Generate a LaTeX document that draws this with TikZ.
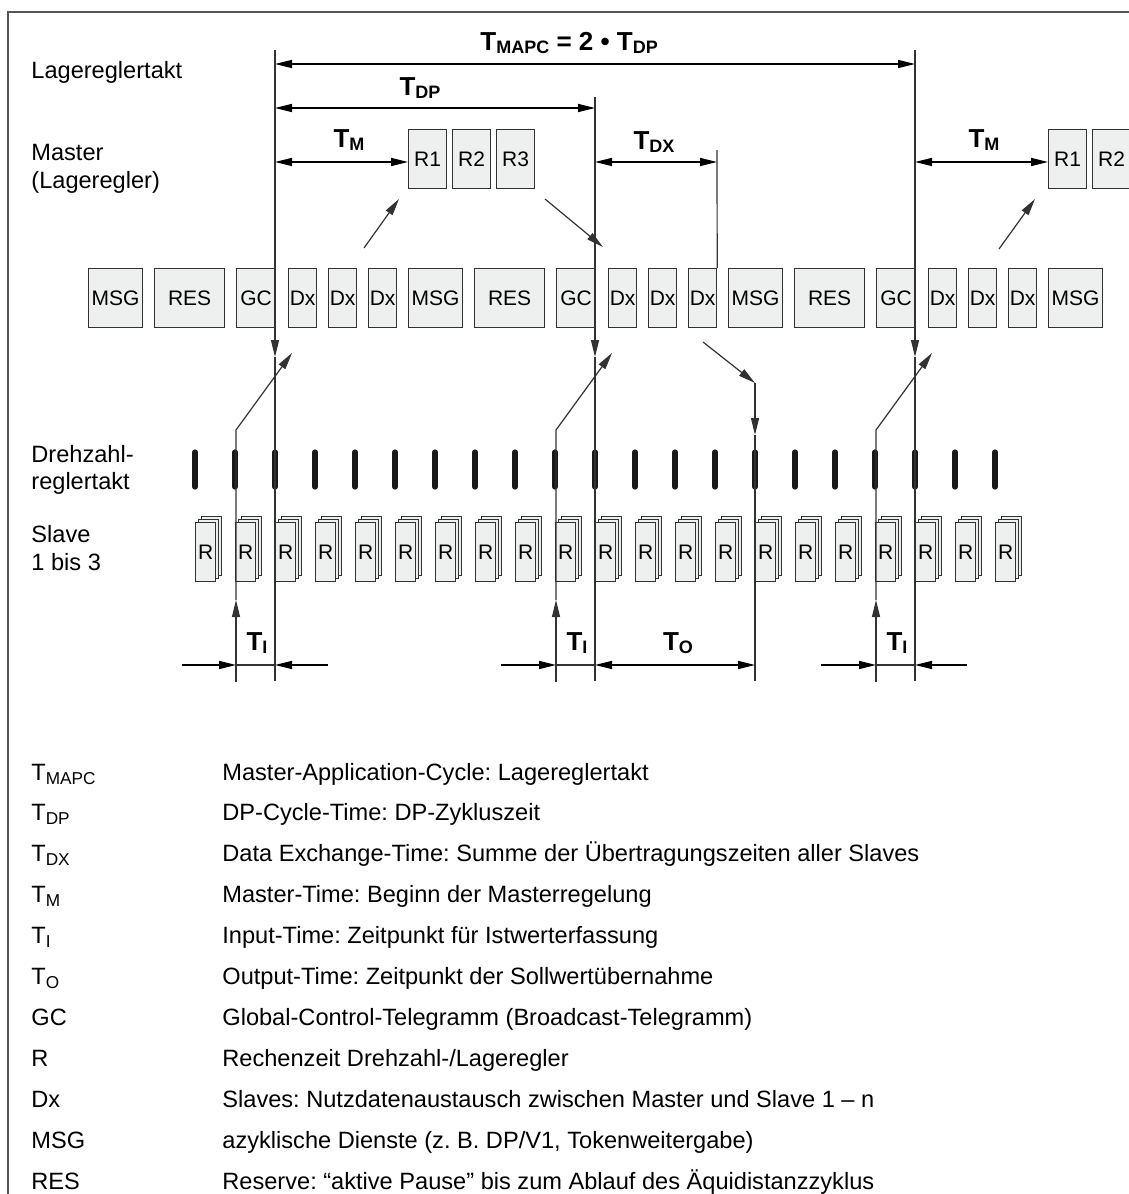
\documentclass[tikz,border=0pt]{standalone}
\usepackage{fontspec}
\setmainfont{Liberation Sans}
\usetikzlibrary{arrows.meta, calc}
\frenchspacing

\definecolor{boxfill}{RGB}{238,240,239}
\definecolor{inkgray}{RGB}{50,50,50}
\definecolor{framegray}{RGB}{85,85,85}

\newcommand{\Tb}[1]{T\raisebox{-0.28ex}{\fontsize{9}{10}\selectfont #1}}
\newcommand{\Tn}[1]{T\raisebox{-0.32ex}{\fontsize{8.6}{10}\selectfont #1}}

\tikzset{
  lbl/.style={anchor=base west, inner sep=0pt, font=\fontsize{11.8}{14}\selectfont},
  tlbl/.style={anchor=base, inner sep=0pt, font=\fontsize{13}{15}\selectfont\bfseries},
  pkt/.style={draw=inkgray, fill=boxfill, line width=0.6pt, inner sep=0pt, anchor=north west, minimum height=29.5pt, font=\fontsize{10.5}{12}\selectfont},
  msgbox/.style={pkt, minimum width=27pt},
  resbox/.style={pkt, minimum width=35pt},
  gcbox/.style={pkt, minimum width=19.5pt},
  dxbox/.style={pkt, minimum width=14pt},
  mbox/.style={pkt, minimum width=19pt},
  rfront/.style={pkt, minimum width=10pt, minimum height=29.5pt},
  rback/.style={draw=inkgray, fill=boxfill, line width=0.5pt},
  vline/.style={draw=inkgray, line width=0.6pt},
  dimline/.style={line width=0.75pt},
  taktmark/.style={line width=2.6pt, line cap=round, black!90},
}

\begin{document}
\begin{tikzpicture}[x=0.5pt, y=-0.5pt, >={Triangle[length=8.5pt, width=4pt]}]
  \useasboundingbox (0,0) rectangle (1129,1194);
  \draw[framegray, line width=0.6pt] (8,1210) -- (8,12) -- (1140,12);

  % row labels
  \node[lbl] (lagetakt) at (31,78) {Lagereglertakt};
  \node[lbl] (master) at (31,160) {Master};
  \node[lbl] (masterb) at (31,188) {(Lageregler)};
  \node[lbl] (drehz) at (31,462) {Drehzahl-};
  \node[lbl] (drehzb) at (31,489) {reglertakt};
  \node[lbl] (slave) at (31,542) {Slave};
  \node[lbl] (slaveb) at (31,570) {1 bis 3};

  % bus telegrams
  \node[msgbox] (msg0) at (88,268) {MSG};
  \node[resbox] (res0) at (154,268) {RES};
  \node[gcbox] (gc1) at (236,268) {GC};
  \node[dxbox] (dx1a) at (288,268) {Dx};
  \node[dxbox] (dx1b) at (328,268) {Dx};
  \node[dxbox] (dx1c) at (368,268) {Dx};
  \node[msgbox] (msg1) at (408,268) {MSG};
  \node[resbox] (res1) at (474,268) {RES};
  \node[gcbox] (gc2) at (556,268) {GC};
  \node[dxbox] (dx2a) at (608,268) {Dx};
  \node[dxbox] (dx2b) at (648,268) {Dx};
  \node[dxbox] (dx2c) at (688,268) {Dx};
  \node[msgbox] (msg2) at (728,268) {MSG};
  \node[resbox] (res2) at (794,268) {RES};
  \node[gcbox] (gc3) at (876,268) {GC};
  \node[dxbox] (dx3a) at (928,268) {Dx};
  \node[dxbox] (dx3b) at (968,268) {Dx};
  \node[dxbox] (dx3c) at (1008,268) {Dx};
  \node[msgbox] (msg3) at (1048,268) {MSG};

  % master computing
  \node[mbox] (r1a) at (408,129) {R1};
  \node[mbox] (r2a) at (452,129) {R2};
  \node[mbox] (r3a) at (496,129) {R3};
  \node[mbox] (r1b) at (1048,129) {R1};
  \node[mbox] (r2b) at (1092,129) {R2};

  % speed controller clock and slaves
  \foreach \k in {0,...,20} {
    \draw[taktmark] ({195+40*\k},452) -- ({195+40*\k},487);
    \draw[rback] ({201+40*\k},516) rectangle ++(20,59);
    \draw[rback] ({198+40*\k},519) rectangle ++(20,59);
    \node[rfront] (rs\k) at ({195+40*\k},522) {R};
  }

  % cycle lines
  \coordinate (a0) at (275,50);  \coordinate (a1) at (275,357);  \coordinate (a2) at (275,681);
  \coordinate (b0) at (595,97);  \coordinate (b1) at (595,357);  \coordinate (b2) at (595,681);
  \coordinate (c0) at (915,50);  \coordinate (c1) at (915,357);  \coordinate (c2) at (915,681);
  \coordinate (dxtop) at (717,150);
  \draw[vline, ->] (a0) -- (a1);
  \draw[vline] (a1) -- (a2);
  \draw[vline, ->] (b0) -- (b1);
  \draw[vline] (b1) -- (b2);
  \draw[vline, ->] (c0) -- (c1);
  \draw[vline] (c1) -- (c2);
  \draw[vline] (dxtop) -- (dx2c.north east);

  % actual value paths
  \coordinate (s1a) at (236,682); \coordinate (s1b) at (236,600); \coordinate (s1c) at (236,430); \coordinate (s1d) at (292,353);
  \coordinate (s2a) at (556,682); \coordinate (s2b) at (556,600); \coordinate (s2c) at (556,430); \coordinate (s2d) at (612,353);
  \coordinate (s3a) at (876,682); \coordinate (s3b) at (876,600); \coordinate (s3c) at (876,430); \coordinate (s3d) at (932,353);
  \draw[vline, ->] (s1a) -- (s1b);
  \draw[vline, ->] (s1b) -- (s1c) -- (s1d);
  \draw[vline, ->] (s2a) -- (s2b);
  \draw[vline, ->] (s2b) -- (s2c) -- (s2d);
  \draw[vline, ->] (s3a) -- (s3b);
  \draw[vline, ->] (s3b) -- (s3c) -- (s3d);

  % master paths
  \coordinate (m1a) at (364,248); \coordinate (m1b) at (399,199);
  \coordinate (m2a) at (545,199); \coordinate (m2b) at (603,247);
  \coordinate (m3a) at (999,249); \coordinate (m3b) at (1035,199);
  \draw[vline, ->] (m1a) -- (m1b);
  \draw[vline, ->] (m2a) -- (m2b);
  \draw[vline, ->] (m3a) -- (m3b);
  \coordinate (o0) at (703,342); \coordinate (o1) at (755,383); \coordinate (o2) at (755,435); \coordinate (o3) at (755,681);
  \draw[vline, ->] (o0) -- (o1);
  \draw[vline, ->] (o1) -- (o2);
  \draw[vline] (o2) -- (o3);

  % time spans
  \draw[dimline, <->] (a0 |- 0,64) -- (c0 |- 0,64);
  \draw[dimline, <->] (a0 |- 0,108) -- (b0 |- 0,108);
  \draw[dimline, <->] (a0 |- 0,162) -- (r1a.west |- 0,162);
  \draw[dimline, <->] (b0 |- 0,162) -- (dxtop |- 0,162);
  \draw[dimline, <->] (c0 |- 0,162) -- (r1b.west |- 0,162);
  \node[tlbl, anchor=base west] (tmapc) at (480,50) {\Tb{MAPC} = 2 • \Tb{DP}};
  \node[tlbl] (tdp) at (420,95) {\Tb{DP}};
  \node[tlbl] (tm) at (349,147) {\Tb{M}};
  \node[tlbl] (tdx) at (654,149) {\Tb{DX}};
  \node[tlbl] (tm2) at (984,147) {\Tb{M}};

  \draw[dimline, ->] (182,665) -- (s1a |- 0,665);
  \draw[vline] (s1a |- 0,665) -- (a2 |- 0,665);
  \draw[dimline, ->] (328,665) -- (a2 |- 0,665);
  \draw[dimline, ->] (501,665) -- (s2a |- 0,665);
  \draw[vline] (s2a |- 0,665) -- (b2 |- 0,665);
  \draw[dimline, <->] (b2 |- 0,665) -- (o3 |- 0,665);
  \draw[dimline, ->] (821,665) -- (s3a |- 0,665);
  \draw[vline] (s3a |- 0,665) -- (c2 |- 0,665);
  \draw[dimline, ->] (967,665) -- (c2 |- 0,665);
  \node[tlbl] (ti1) at (257,650) {\Tb{I}};
  \node[tlbl] (ti2) at (577,650) {\Tb{I}};
  \node[tlbl] (to) at (678,650) {\Tb{O}};
  \node[tlbl] (ti3) at (897,650) {\Tb{I}};

  % legend
  \foreach \sym/\txt [count=\i from 0] in {
    {\Tn{MAPC}}/{Master-Application-Cycle: Lagereglertakt},
    {\Tn{DP}}/{DP-Cycle-Time: DP-Zykluszeit},
    {\Tn{DX}}/{Data Exchange-Time: Summe der Übertragungszeiten aller Slaves},
    {\Tn{M}}/{Master-Time: Beginn der Masterregelung},
    {\Tn{I}}/{Input-Time: Zeitpunkt für Istwerterfassung},
    {\Tn{O}}/{Output-Time: Zeitpunkt der Sollwertübernahme},
    {GC}/{Global-Control-Telegramm (Broadcast-Telegramm)},
    {R}/{Rechenzeit Drehzahl-/Lageregler},
    {Dx}/{Slaves: Nutzdatenaustausch zwischen Master und Slave 1 – n},
    {MSG}/{azyklische Dienste (z. B. DP/V1, Tokenweitergabe)},
    {RES}/{Reserve: “aktive Pause” bis zum Ablauf des Äquidistanzzyklus}} {
    \node[lbl] (sym\i) at (31,{780+40.9*\i}) {\sym};
    \node[lbl] (txt\i) at (222,{780+40.9*\i}) {\txt};
  }
\end{tikzpicture}
\end{document}
